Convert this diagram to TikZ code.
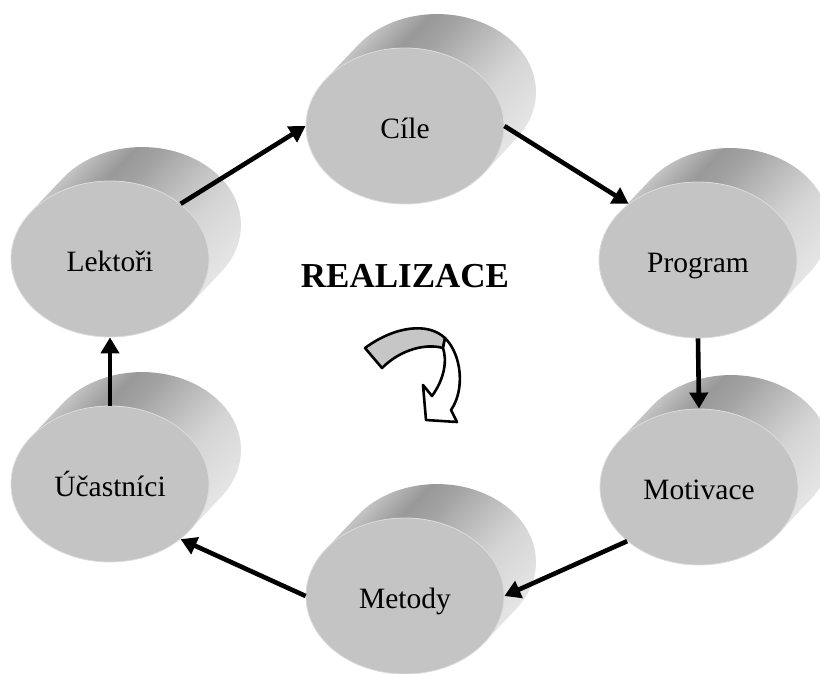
\documentclass[tikz,border=0pt]{standalone}
\usepackage{fontspec}
\setmainfont{Liberation Serif}
\usetikzlibrary{shapes.geometric,arrows.meta,calc}
\pgfdeclarehorizontalshading{cylsh}{100bp}{color(0bp)=(gray!46); color(25bp)=(gray!46);
  color(29bp)=(gray!62); color(34bp)=(gray!80); color(40bp)=(gray!73); color(45bp)=(gray!62);
  color(53bp)=(gray!46); color(60bp)=(gray!33); color(75bp)=(gray!20); color(100bp)=(gray!20)}
\tikzset{
  cyl/.style={ellipse, minimum width=198pt, minimum height=156pt, inner sep=0pt,
    fill=gray!46, draw=gray!28, line width=0.8pt,
    font=\fontsize{29.5}{34}\selectfont, text height=24pt, text depth=0pt},
  conn/.style={line width=4.6pt, -{Triangle[length=16pt,width=18pt]}},
  bendarrow/.style={line width=2.6pt, line join=round},
  title/.style={font=\bfseries\fontsize{35}{40}\selectfont}
}
\newcommand\cylbody[1]{%
  \begin{scope}
  \clip ([shift={(79.5,46.5)}]#1) -- ([shift={(111.5,12.5)}]#1)
    arc[start angle=36.56, end angle=-143.44, x radius=99, y radius=78]
    -- ([shift={(-79.5,-46.5)}]#1)
    arc[start angle=-143.44, end angle=36.56, x radius=99, y radius=78] -- cycle;
  \begin{scope}[transform canvas={shift={(#1)}, rotate=-43.3}]
    \shade[shading=cylsh] (-90,-170) rectangle (90,170);
  \end{scope}
  \end{scope}}
\begin{document}
\begin{tikzpicture}[x=1pt,y=-1pt]
\useasboundingbox (0,0) rectangle (820,673);
\coordinate (Pcil) at (405,126);
\coordinate (Pprog) at (698,260);
\coordinate (Pmot) at (699,487);
\coordinate (Pmet) at (405,596);
\coordinate (Puca) at (110,484);
\coordinate (Plek) at (110,259);
\foreach \p in {Pcil,Pprog,Pmot,Pmet,Puca,Plek} {\cylbody{\p}}
\node[cyl] (cil) at (Pcil) {Cíle};
\node[cyl] (prog) at (Pprog) {Program};
\node[cyl] (mot) at (Pmot) {Motivace};
\node[cyl] (met) at (Pmet) {Metody};
\node[cyl] (uca) at (Puca) {Účastníci};
\node[cyl] (lek) at (Plek) {Lektoři};
\node[title] (real) at (405,276) {REALIZACE};
\draw[conn] (lek.38) -- (cil.west);
\draw[conn] (cil.east) -- (prog.141);
\draw[conn] (prog.south) -- (mot.north);
\draw[conn] (mot.217) -- (met.east);
\draw[conn] (met.west) -- (uca.-38);
\draw[conn] (uca.north) -- (lek.south);
% curved block arrow
\filldraw[bendarrow, fill=gray!45] (365,348) .. controls (395,326) and (428,322) .. (445,338)
  -- (443,348) .. controls (425,343) and (400,350) .. (382,368) -- cycle;
\filldraw[bendarrow, fill=white] (445,338) .. controls (462,355) and (465,390) .. (451,410)
  -- (457,422) -- (426,420) -- (423,385) -- (432,396)
  .. controls (445,378) and (447,360) .. (443,348) -- cycle;
\end{tikzpicture}
\end{document}
